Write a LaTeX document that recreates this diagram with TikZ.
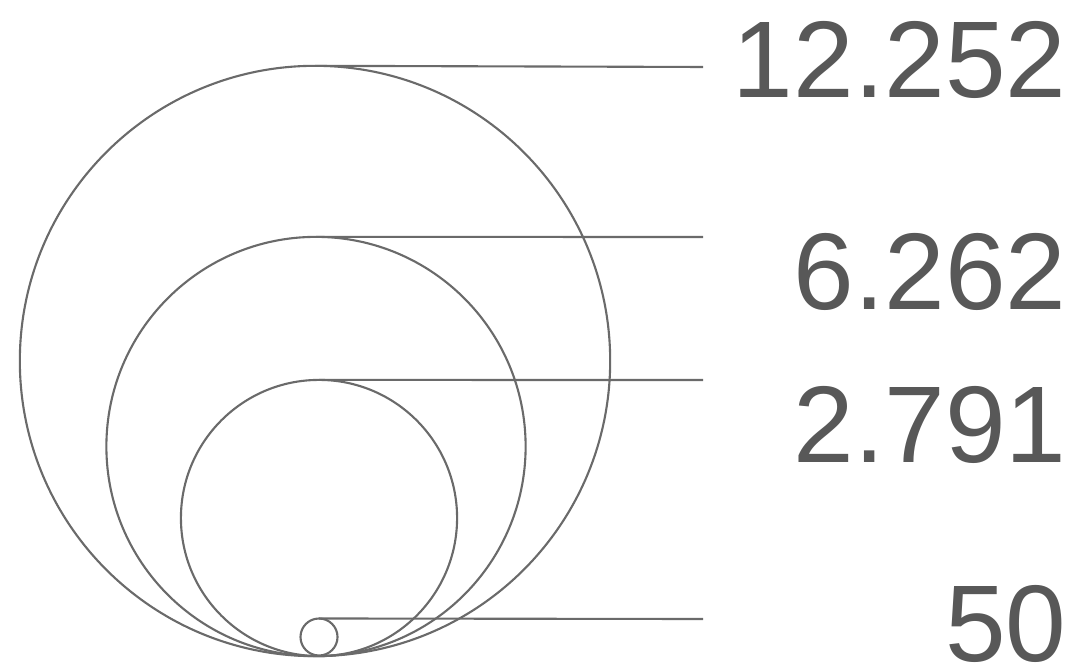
\documentclass[tikz,border=0pt]{standalone}
\usepackage{fontspec}
\setmainfont{Liberation Sans}
\usetikzlibrary{positioning}
\definecolor{linegray}{HTML}{6A6A6A}
\definecolor{textgray}{HTML}{585858}

\begin{document}
\begin{tikzpicture}[x=0.01cm,y=-0.01cm,
  ring/.style={circle,draw=linegray,line width=0.6pt,inner sep=0pt,outer sep=0pt},
  leader/.style={draw=linegray,line width=0.6pt},
  value/.style={anchor=east,inner sep=0pt,text=textgray,font=\fontsize{31}{31}\selectfont}]
  \useasboundingbox (0,0) rectangle (1074,671);
  % nested circles, all touching at the bottom
  \node[ring,minimum size=5.9cm] (big) at (315,361) {};
  \node[ring,minimum size=4.19cm] (mid) at (316,446.5) {};
  \node[ring,minimum size=2.76cm] (low) at (319,518) {};
  \node[ring,minimum size=0.37cm] (dot) at (319,637) {};
  % leader ends
  \coordinate (e1) at (703,67);
  \coordinate (e2) at (703,237);
  \coordinate (e3) at (703,380);
  \coordinate (e4) at (703,619);
  \draw[leader] (big.north) -- (e1);
  \draw[leader] (mid.north) -- (e2);
  \draw[leader] (low.north) -- (e3);
  \draw[leader] (dot.north) -- (e4);
  % values
  \node[value] (v1) at (1067,60) {12.252};
  \node[value] (v2) at (1067,272) {6.262};
  \node[value] (v3) at (1067,425) {2.791};
  \node[value] (v4) at (1067,624) {50};
\end{tikzpicture}
\end{document}
